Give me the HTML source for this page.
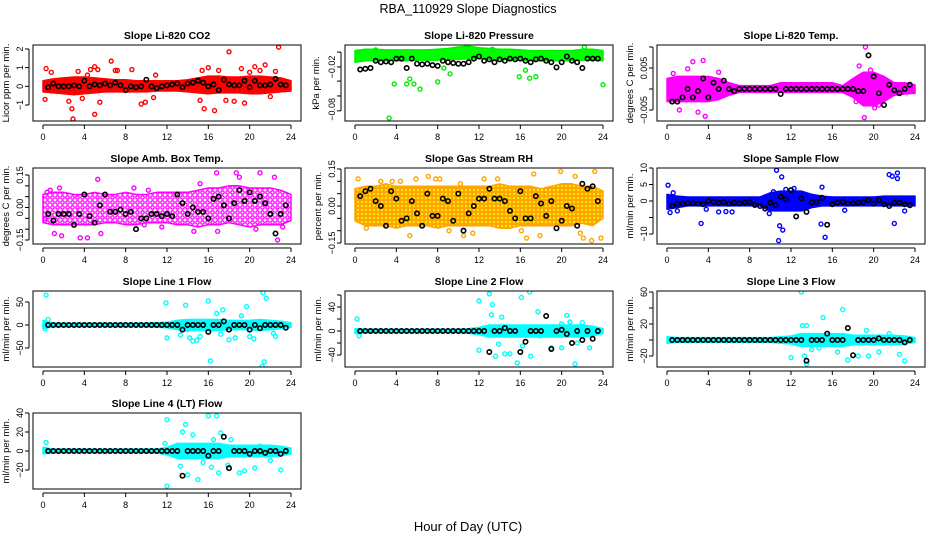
<!DOCTYPE html>
<html><head><meta charset="utf-8"><style>
html,body{margin:0;padding:0;background:#fff;}
svg{display:block;font-family:"Liberation Sans",sans-serif;}
</style></head><body>
<svg id="chart" width="936" height="540" viewBox="0 0 936 540" xmlns="http://www.w3.org/2000/svg">
<defs>
<pattern id="pat-sparse-m" width="5" height="5" patternUnits="userSpaceOnUse"><circle cx="2.5" cy="2.5" r="1.7" fill="none" stroke="#ff00ff" stroke-width="1.3"/></pattern>
<pattern id="pat-rh" width="4" height="4" patternUnits="userSpaceOnUse"><rect width="4" height="4" fill="#ffa500"/><circle cx="2" cy="2" r="1" fill="#ffff00"/></pattern>
</defs>
<text x="468" y="13" text-anchor="middle" font-size="12.5">RBA_110929  Slope Diagnostics</text>
<text x="468" y="531" text-anchor="middle" font-size="13">Hour of Day (UTC)</text>
<g id="panels"></g>
</svg>
<script>
// ---- shared data ----
const xTicks = [0,4,8,12,16,20,24];
const bandHours = [0,1,2,3,4,5,6,7,8,9,10,11,12,13,14,15,16,17,18,19,20,21,22,23,24];
const blackHours = [0.5,1,1.5,2,2.5,3,3.5,4,4.5,5,5.5,6,6.5,7,7.5,8,8.5,9,9.5,10,10.5,11,11.5,12,12.5,13,13.5,14,14.5,15,15.5,16,16.5,17,17.5,18,18.5,19,19.5,20,20.5,21,21.5,22,22.5,23,23.5];

// P1 CO2
const co2BandLo = [-0.3,-0.35,-0.4,-0.45,-0.4,-0.35,-0.3,-0.3,-0.3,-0.3,-0.3,-0.25,-0.25,-0.25,-0.3,-0.35,-0.4,-0.35,-0.35,-0.35,-0.4,-0.4,-0.35,-0.3,-0.25];
const co2BandHi = [0.3,0.4,0.45,0.5,0.5,0.45,0.4,0.35,0.35,0.3,0.3,0.3,0.3,0.3,0.35,0.45,0.55,0.55,0.5,0.5,0.55,0.55,0.5,0.45,0.3];
const co2OutH = [0.3,0.8,0.2,2.5,2.8,2.9,3.4,3.8,4.3,4.6,5.0,5.3,5.0,5.5,6.6,7.0,7.2,8.6,9.5,9.9,10.7,10.9,15.2,15.4,15.6,16.0,16.6,17.0,17.7,18.0,18.5,19.2,19.5,20.0,20.5,21.0,21.5,22.0,22.5,22.8];
const co2OutV = [0.95,0.75,-0.7,-0.8,-1.2,-1.75,0.8,-0.65,0.6,0.9,1.05,0.9,-1.5,-0.85,1.35,0.85,0.85,0.9,-0.95,-0.85,-0.6,0.6,-0.75,0.85,-1.2,1.0,-1.3,0.85,-0.75,1.85,-0.8,0.95,-0.9,0.75,1.05,0.85,1.15,-0.55,0.8,2.1];
const co2Black = [-0.05,0.15,0.0,0.0,0.0,0.05,0.0,0.3,0.0,0.1,0.05,0.15,0.05,0.2,0.05,-0.2,0.0,-0.05,0.0,0.35,0.0,-0.1,0.0,0.05,0.1,0.15,-0.05,0.15,0.2,0.3,0.2,0.0,0.1,-0.2,0.35,0.1,0.05,0.05,0.3,-0.05,0.3,0.05,0.05,0.1,0.4,0.1,0.05];

// P2 Pressure
const prsBandLo = [-0.01,-0.008,-0.008,-0.008,-0.008,-0.008,-0.007,-0.007,-0.007,-0.006,-0.006,-0.005,-0.005,-0.006,-0.006,-0.007,-0.007,-0.008,-0.008,-0.008,-0.008,-0.008,-0.007,-0.007,-0.008];
const prsBandHi = [0.006,0.008,0.008,0.007,0.007,0.007,0.007,0.007,0.008,0.009,0.011,0.012,0.01,0.009,0.008,0.008,0.007,0.006,0.006,0.006,0.006,0.006,0.008,0.008,0.006];
const prsOutH = [3.3,3.8,5.0,5.3,5.7,6.3,8.0,8.6,9.2,15.9,16.5,16.9,17.5,24.0,10.8,22.2,13.3,2.0,0.3];
const prsOutV = [-0.087,-0.04,-0.04,-0.033,-0.04,-0.047,-0.037,-0.018,-0.026,-0.03,-0.021,-0.032,-0.03,-0.041,0.012,0.011,0.008,0.007,0.004];
const prsBlack = [-0.02,-0.019,-0.018,-0.008,-0.01,-0.009,-0.01,-0.005,-0.005,-0.018,-0.005,-0.012,-0.013,-0.012,-0.014,-0.015,-0.008,-0.01,-0.011,-0.012,-0.012,-0.01,-0.005,-0.002,-0.008,-0.006,-0.01,-0.006,-0.008,-0.005,-0.006,-0.005,-0.008,-0.01,-0.006,-0.005,-0.008,-0.01,-0.017,-0.01,-0.002,-0.008,-0.01,-0.018,-0.005,-0.005,-0.005];

// P3 Li-820 Temp
const tmpBandLo = [-0.003,-0.003,-0.003,-0.003,-0.003,-0.0025,-0.0015,-0.0008,-0.0008,-0.0008,-0.0008,-0.0008,-0.0008,-0.0008,-0.0008,-0.0008,-0.0008,-0.0008,-0.002,-0.004,-0.004,-0.003,-0.0015,-0.0012,-0.001];
const tmpBandHi = [0.0025,0.003,0.003,0.003,0.003,0.0025,0.0015,0.0008,0.0008,0.0008,0.0008,0.0015,0.0015,0.0015,0.0015,0.0015,0.0015,0.0008,0.0025,0.004,0.004,0.003,0.0015,0.0015,0.001];
const tmpOutH = [0.6,2.5,3.5,3.7,1.2,3.0,2.0,18.6,19.2,19.1,19.7,20.1,20.5,18.3,5.0];
const tmpOutV = [0.0037,0.0065,0.0068,-0.0065,-0.005,-0.0055,0.0048,0.0055,0.01,-0.0068,0.0045,-0.0045,-0.0038,-0.003,0.004];
const tmpBlack = [-0.003,-0.003,-0.002,0,-0.002,-0.0005,0.0025,-0.002,0.0015,0.0,0.002,0,-0.0005,0,0,0,0,0,0,0,0,-0.0012,0,0,0,0,0,0,0,0,0,0,0,0,0,0,-0.0005,-0.0005,0.008,0.003,-0.001,-0.0038,0.001,-0.0003,-0.001,0,0.001];

// P4 Amb Box Temp
const ambBandLo = [-0.07,-0.08,-0.08,-0.08,-0.08,-0.08,-0.07,-0.07,-0.08,-0.08,-0.07,-0.07,-0.07,-0.08,-0.08,-0.09,-0.08,-0.08,-0.07,-0.08,-0.09,-0.08,-0.08,-0.08,-0.06];
const ambBandHi = [0.06,0.07,0.07,0.06,0.06,0.07,0.06,0.06,0.07,0.06,0.06,0.07,0.07,0.07,0.07,0.08,0.09,0.09,0.1,0.1,0.09,0.09,0.09,0.08,0.06];
const ambOutH = [0.4,0.7,1.1,1.6,1.8,3.6,4.3,5.3,5.6,8.8,9.8,10.2,11.5,14.6,15.2,16.8,16.9,18.7,19.0,20.6,21.0,22.4,22.7,23.2,0.2];
const ambOutV = [0.07,0.08,-0.12,0.09,-0.13,-0.14,-0.14,0.13,-0.12,0.09,-0.08,0.08,-0.09,-0.11,0.11,0.16,-0.11,0.16,0.14,-0.1,0.16,0.14,-0.15,-0.09,-0.05];
const ambBlack = [-0.03,-0.06,-0.03,-0.03,-0.03,-0.08,-0.03,0.06,-0.04,-0.07,0.01,0.06,-0.02,-0.02,-0.01,-0.03,-0.02,-0.10,-0.05,-0.05,-0.03,-0.03,-0.04,-0.03,-0.04,0.06,0.02,-0.03,0.00,-0.02,-0.02,-0.05,0.04,0.05,0.01,-0.05,0.02,0.08,0.03,0.07,0.03,0.05,0.02,-0.03,-0.12,-0.03,0.01];

// P5 Gas Stream RH
const rhBandLo = [-0.06,-0.08,-0.08,-0.08,-0.09,-0.08,-0.08,-0.08,-0.09,-0.08,-0.08,-0.08,-0.08,-0.08,-0.09,-0.09,-0.08,-0.08,-0.08,-0.08,-0.08,-0.08,-0.07,-0.08,-0.05];
const rhBandHi = [0.07,0.08,0.08,0.09,0.08,0.08,0.08,0.08,0.08,0.08,0.08,0.08,0.08,0.08,0.09,0.08,0.08,0.08,0.07,0.08,0.09,0.09,0.08,0.08,0.06];
const rhOutH = [0.3,1.1,2.5,3.6,4.4,5.3,5.9,7.1,7.8,8.2,9.1,10.2,10.5,11.4,12.5,13.8,16.1,16.6,17.3,17.9,19.9,20.4,21.3,21.8,22.1,22.9,23.2,23.8];
const rhOutV = [0.11,-0.09,0.1,0.1,0.1,-0.12,0.11,0.12,0.11,0.11,-0.1,0.09,-0.12,-0.11,0.11,0.11,-0.1,-0.13,0.13,-0.12,0.14,0.17,0.12,-0.11,-0.13,-0.14,0.14,-0.13];
const rhBlack = [0.04,0.06,0.07,0.02,0.00,-0.08,0.06,0.03,-0.06,-0.05,0.02,-0.03,-0.08,0.05,-0.04,-0.04,0.03,0.02,-0.06,0.05,-0.10,-0.03,0.00,0.03,0.03,0.07,0.03,0.03,0.02,-0.02,-0.05,0.06,-0.05,-0.05,0.04,0.01,-0.04,0.02,-0.09,-0.06,0.00,-0.01,-0.08,0.09,0.07,0.08,0.02];

// P6 Sample Flow
const sfBandLo = [-2.5,-2,-1.5,-1.5,-1.5,-1.5,-1.5,-1.5,-1.5,-1.5,-3,-3,-3,-3,-2,-1.5,-1.5,-1.5,-1.5,-1.5,-1.5,-1.5,-1.5,-1.5,-1.5];
const sfBandHi = [2,1.5,1.2,1.2,1.2,1.2,1.2,1.2,1.2,1.2,2.5,3,3,3,2,1.5,1.2,1.2,1.2,1.2,1.2,1.5,1.5,1.5,1.5];
const sfOutH = [0.1,0.3,0.6,1.0,3.3,3.8,5.0,5.7,6.3,9.9,10.3,10.6,10.8,10.9,11.1,11.2,11.5,12.3,14.9,15.3,15.0,17.2,21.5,21.8,22.0,22.3,22.3,23.0];
const sfOutV = [4.8,-3.5,2.5,-3.0,-6.8,-2.5,-3.3,-3.2,-3.3,-3.8,2.8,9.3,-12.0,-7.5,7.3,-8.8,3.5,3.8,-7.0,-11.0,4.2,-2.8,8.0,7.5,-6.8,6.8,8.5,-3.0];
const sfBlack = [-1.5,-0.8,-0.8,-0.7,-0.7,-0.8,-1.0,0.0,-0.3,-0.5,-0.3,-0.8,-0.5,-0.7,-0.5,-0.3,-1.2,-1.5,-2.3,-0.5,-1.3,1.3,0.5,3.3,-4.7,0.8,-3.3,-0.5,-0.3,1.0,-7.2,-1.0,-0.5,-0.3,-0.8,-0.7,-0.5,-0.3,0.3,-0.8,0.3,-1.0,-1.5,-0.5,-0.5,-1.0,-1.3];

// P7 Line 1
const l1BandLo = [-8,-4,-4,-4,-4,-4,-4,-4,-4,-4,-4,-5,-6,-10,-12,-12,-12,-12,-10,-10,-10,-12,-10,-8,-5];
const l1BandHi = [10,4,4,4,4,4,4,4,4,4,4,5,6,10,12,12,12,12,10,10,10,12,10,8,5];
const l1OutH = [0.3,0.2,0.5,12.0,11.9,13.3,13.8,14.2,14.5,14.0,14.9,15.2,16.0,16.2,16.8,17.2,17.4,18.0,18.6,19.2,19.7,20.0,20.4,21.3,21.6,21.2,21.4,22.5,22.3];
const l1OutV = [65,-8,12,-28,48,-22,43,-28,-35,-10,-33,-25,52,-78,25,-20,33,-32,-28,20,40,-25,-30,70,58,-90,-80,-25,-18];
const l1Black = [0,0,0,0,0,0,0,0,0,0,0,0,0,0,0,0,0,0,0,0,0,0,0,0,0,0,-10,0,0,0,0,-15,0,0,8,-10,0,0,0,-10,0,-7,0,0,0,0,-6];

// P8 Line 2
const l2BandLo = [-4,-3,-3,-3,-3,-3,-3,-3,-3,-3,-3,-4,-6,-10,-10,-10,-10,-10,-10,-10,-10,-10,-10,-8,-4];
const l2BandHi = [4,3,3,3,3,3,3,3,3,3,3,4,6,10,10,10,10,10,10,10,10,10,10,8,4];
const l2OutH = [0.2,0.4,12.0,12.0,13.0,13.2,13.3,13.6,13.9,14.2,14.5,15.0,15.7,16.1,16.2,16.9,17.0,17.7,17.9,19.0,20.0,20.0,20.5,20.8,21.3,22.0,22.7,21.5];
const l2OutV = [20,-8,50,-32,62,27,44,-42,-22,23,-38,-38,-53,56,-25,65,-42,32,-8,-28,-28,12,26,15,-55,14,-28,-20];
const l2Black = [0,0,0,0,0,0,0,0,0,0,0,0,0,0,0,0,0,0,0,0,0,0,0,0,0,-35,0,0,5,0,0,-35,-18,0,0,0,25,-30,0,2,-5,-20,0,-15,0,-13,0];

// P9 Line 3
const l3BandLo = [-4,-3,-3,-3,-3,-3,-3,-3,-3,-3,-3,-4,-5,-8,-8,-8,-8,-8,-6,-6,-6,-6,-6,-5,-3];
const l3BandHi = [4,3,3,3,3,3,3,3,3,3,3,4,5,8,8,8,8,8,6,6,6,6,6,5,3];
const l3OutH = [13.0,12.0,13.1,13.3,13.5,14.0,14.2,15.1,16.5,17.0,17.5,18.5,19.5,19.3,20.5,21.5,22.5,23.0,13.5,14.7];
const l3OutV = [60,-22,18,-20,-30,-12,5,28,-15,38,-25,-20,-20,12,-15,8,-18,-26,18,-10];
const l3Black = [0,0,0,0,0,0,0,0,0,0,0,0,0,0,0,0,0,0,0,0,0,0,0,0,0,0,-26,0,0,0,8,0,0,0,15,-19,0,0,0,0,2,0,0,0,0,-3,0];

// P10 Line 4 (LT)
const l4BandLo = [-3,-2,-2,-2,-2,-2,-2,-2,-2,-2,-2,-2,-4,-8,-8,-8,-8,-8,-6,-6,-6,-6,-6,-5,-3];
const l4BandHi = [4,2,2,2,2,2,2,2,2,2,2,2,4,8,8,8,8,8,6,6,6,6,6,5,3];
const l4OutH = [0.3,11.8,12.0,12.0,13.5,13.8,13.3,14.5,14.0,15.0,15.5,16.0,16.3,16.8,17.2,17.0,17.9,18.2,19.0,19.5,20.5,21.0,22.0,23.0,16.5];
const l4OutV = [9,8,33,-37,20,28,-16,17,-25,-30,-12,37,-17,37,19,-23,-15,12,-23,-21,-18,5,-10,-20,12];
const l4Black = [0,0,0,0,0,0,0,0,0,0,0,0,0,0,0,0,0,0,0,0,0,0,0,0,0,0,-26,0,0,0,0,-5,0,0,15,-18,0,0,0,-3,0,0,-2,0,0,-3,0];

// ---- panel specs (layout & axes, not data) ----
const panels = [
 {name:'co2',col:0,row:0,title:'Slope Li-820 CO2',ylab:'Licor ppm per min.',va:2,pa:49,vb:-1,pb:105,ticks:[-1,0,1,2],labs:['\u22121','0','1','2'],labAt:[-1,0,1,2],color:'#ff0000',fill:'#ff0000',lo:co2BandLo,hi:co2BandHi,oh:co2OutH,ov:co2OutV,bk:co2Black},
 {name:'pressure',col:1,row:0,title:'Slope Li-820 Pressure',ylab:'kPa per min.',va:0,pa:55,vb:-0.06,pb:98.5,ticks:[0.004,-0.0165,-0.036,-0.0565,-0.077],labs:['\u22120.02','\u22120.08'],labAt:[-0.0165,-0.075],color:'#00ee00',fill:'#00ff00',lo:prsBandLo,hi:prsBandHi,oh:prsOutH,ov:prsOutV,bk:prsBlack},
 {name:'li820-temp',col:2,row:0,title:'Slope Li-820 Temp.',ylab:'degrees C per min.',va:0.005,pa:68,vb:-0.005,pb:110,ticks:[-0.005,0,0.005,0.01],labs:['\u22120.005','0.005'],labAt:[-0.005,0.005],color:'#ff00ff',fill:'#ff00ff',lo:tmpBandLo,hi:tmpBandHi,oh:tmpOutH,ov:tmpOutV,bk:tmpBlack},
 {name:'amb-box-temp',col:0,row:1,title:'Slope Amb. Box Temp.',ylab:'degrees C per min.',va:0.15,pa:175,vb:-0.15,pb:240,ticks:[-0.15,-0.1,-0.05,0,0.05,0.1,0.15],labs:['\u22120.15','0.00','0.15'],labAt:[-0.15,0,0.15],color:'#ff00ff',fill:'url(#pat-sparse-m)',lo:ambBandLo,hi:ambBandHi,oh:ambOutH,ov:ambOutV,bk:ambBlack},
 {name:'gas-stream-rh',col:1,row:1,title:'Slope Gas Stream RH',ylab:'percent per min.',va:0.15,pa:169,vb:-0.15,pb:243,ticks:[-0.15,-0.1,-0.05,0,0.05,0.1,0.15],labs:['\u22120.15','0.00','0.15'],labAt:[-0.15,0,0.15],color:'#ffa500',fill:'url(#pat-rh)',lo:rhBandLo,hi:rhBandHi,oh:rhOutH,ov:rhOutV,bk:rhBlack},
 {name:'sample-flow',col:2,row:1,title:'Slope Sample Flow',ylab:'ml/min per min.',va:10,pa:168,vb:-10,pb:234,ticks:[-10,-5,0,5,10],labs:['\u221210','0','5','10'],labAt:[-10,0,5,10],color:'#0000ff',fill:'#0000ff',lo:sfBandLo,hi:sfBandHi,oh:sfOutH,ov:sfOutV,bk:sfBlack},
 {name:'line1-flow',col:0,row:2,title:'Slope Line 1 Flow',ylab:'ml/min per min.',va:50,pa:302,vb:-50,pb:348,ticks:[-50,0,50],labs:['\u221250','0','50'],labAt:[-50,0,50],color:'#00ffff',fill:'#00ffff',lo:l1BandLo,hi:l1BandHi,oh:l1OutH,ov:l1OutV,bk:l1Black},
 {name:'line2-flow',col:1,row:2,title:'Slope Line 2 Flow',ylab:'ml/min per min.',va:40,pa:307,vb:-40,pb:355,ticks:[-40,-20,0,20,40,60],labs:['\u221240','0','40'],labAt:[-40,0,40],color:'#00ffff',fill:'#00ffff',lo:l2BandLo,hi:l2BandHi,oh:l2OutH,ov:l2OutV,bk:l2Black},
 {name:'line3-flow',col:2,row:2,title:'Slope Line 3 Flow',ylab:'ml/min per min.',va:20,pa:324,vb:-20,pb:356,ticks:[-20,0,20,40,60],labs:['\u221220','20','60'],labAt:[-20,20,60],color:'#00ffff',fill:'#00ffff',lo:l3BandLo,hi:l3BandHi,oh:l3OutH,ov:l3OutV,bk:l3Black},
 {name:'line4-flow',col:0,row:3,title:'Slope Line 4 (LT) Flow',ylab:'ml/min per min.',va:40,pa:413,vb:-20,pb:470,ticks:[-20,0,20,40],labs:['\u221220','0','20','40'],labAt:[-20,0,20,40],color:'#00ffff',fill:'#00ffff',lo:l4BandLo,hi:l4BandHi,oh:l4OutH,ov:l4OutV,bk:l4Black}
];
const rowTops = [45,168,291,413];
const NS = 'http://www.w3.org/2000/svg';
const root = document.getElementById('panels');
function mk(tag, attrs, parent){
  const e = document.createElementNS(NS, tag);
  for (const k in attrs) e.setAttribute(k, attrs[k]);
  parent.appendChild(e);
  return e;
}
panels.forEach(p => {
  const left = 33 + p.col*312, width = 268;
  const top = rowTops[p.row], height = 76, bottom = top + height;
  const x0 = 43 + p.col*312;
  const xs = h => x0 + h*248/24;
  const ys = v => p.pa + (v - p.va)*(p.pb - p.pa)/(p.vb - p.va);
  const g = mk('g', {}, root);
  
  
  const clipId = 'clip-' + p.name;
  const cp = mk('clipPath', {id: clipId}, g);
  mk('rect', {x:left, y:top, width:width, height:height}, cp);
  const plot = mk('g', {'clip-path':'url(#'+clipId+')'}, g);
  let pts = [];
  bandHours.forEach((h,i) => pts.push(xs(h).toFixed(1)+','+ys(p.hi[i]).toFixed(1)));
  for (let i = bandHours.length-1; i >= 0; i--) pts.push(xs(bandHours[i]).toFixed(1)+','+ys(p.lo[i]).toFixed(1));
  const band = mk('polygon', {points: pts.join(' '), fill: p.fill, stroke: p.color, 'stroke-width': 1.5, 'stroke-linejoin':'round'}, plot);
  
  
  p.oh.forEach((h,i) => {
    const c = mk('circle', {cx: xs(h), cy: ys(p.ov[i]), r: 2.0, fill: 'none', stroke: p.color, 'stroke-width': 1.4}, plot);
    
    
  });
  blackHours.forEach((h,i) => {
    const c = mk('circle', {cx: xs(h), cy: ys(p.bk[i]), r: 2.2, fill: 'none', stroke: '#000', 'stroke-width': 1.6}, plot);
    
    
  });
  const fr = mk('rect', {x:left, y:top, width:width, height:height, fill:'none', stroke:'#000', 'stroke-width':1}, g);
  
  
  const t = mk('text', {x: left + width/2, y: top - 6, 'text-anchor':'middle', 'font-size': 10.5, 'font-weight':'bold'}, g);
  t.textContent = p.title;
  
  
  const xa = mk('g', {}, g);
  
  
  mk('line', {x1: xs(0), x2: xs(24), y1: bottom+4, y2: bottom+4, stroke:'#000'}, xa);
  xTicks.forEach(v => {
    mk('line', {x1: xs(v), x2: xs(v), y1: bottom+4, y2: bottom+8, stroke:'#000'}, xa);
    const tl = mk('text', {x: xs(v), y: bottom+19, 'text-anchor':'middle', 'font-size': 9}, xa);
    tl.textContent = v;
    
    
  });
  const ya = mk('g', {}, g);
  
  
  const tv = p.ticks.map(ys);
  mk('line', {x1: left-4, x2: left-4, y1: Math.min(...tv), y2: Math.max(...tv), stroke:'#000'}, ya);
  tv.forEach(y => mk('line', {x1: left-8, x2: left-4, y1: y, y2: y, stroke:'#000'}, ya));
  p.labs.forEach((s,i) => {
    const y = ys(p.labAt[i]);
    const tl = mk('text', {x: left-10, y: y, 'text-anchor':'middle', 'font-size': 9, transform: 'rotate(-90 '+(left-10)+' '+y+')'}, ya);
    tl.textContent = s;
    
    
  });
  const cy = top + height/2;
  const ylx = p.name === 'pressure' ? left-26 : left-24;
  const yl = mk('text', {x: ylx, y: cy, 'text-anchor':'middle', 'font-size': 9.5, transform: 'rotate(-90 '+ylx+' '+cy+')'}, g);
  yl.textContent = p.ylab;
  
  
});
</script>
</body></html>
